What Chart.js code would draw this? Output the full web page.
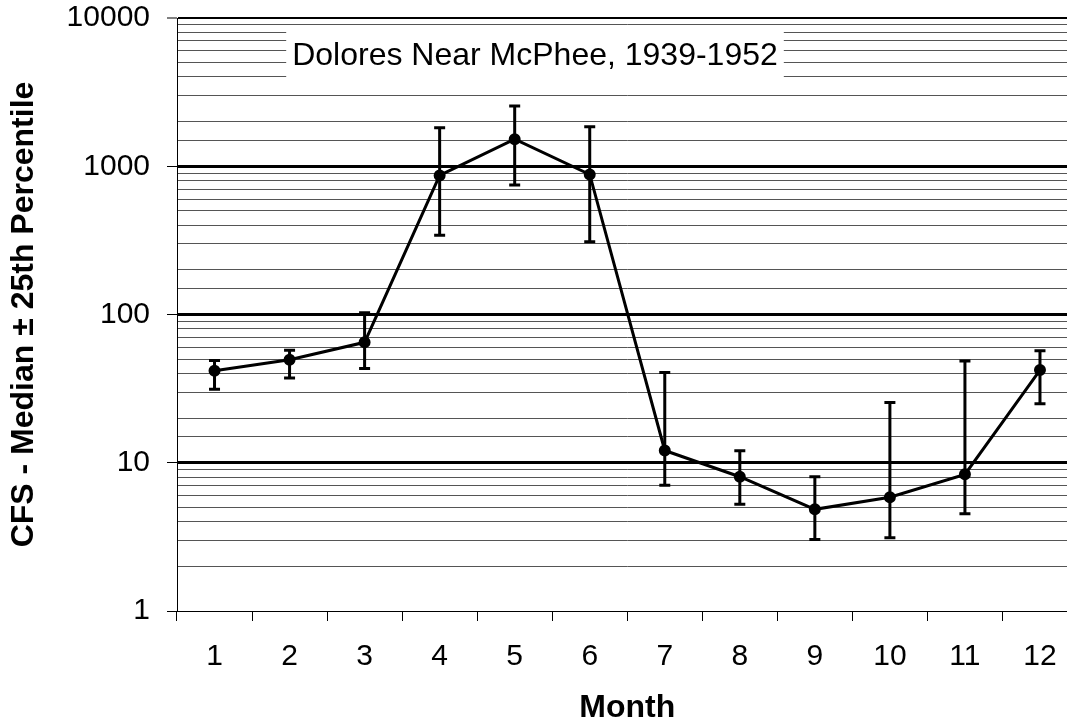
<!DOCTYPE html>
<html>
<head>
<meta charset="utf-8">
<script src="https://cdn.jsdelivr.net/npm/chart.js@4.4.1/dist/chart.umd.min.js"></script>
<style>
  html, body { margin: 0; padding: 0; background: #fff; overflow: hidden; }
  #wrap { position: relative; width: 1085px; height: 724px; }
</style>
</head>
<body>
<div id="wrap"><canvas id="chart"></canvas></div>
<script>
const months = ['1', '2', '3', '4', '5', '6', '7', '8', '9', '10', '11', '12'];
const medianCfs = [41.7, 49.5, 64.9, 867, 1523, 880, 12.1, 8.05, 4.85, 5.85, 8.35, 42.2];
const upperCfs = [49.0, 57.3, 102.6, 1815, 2553, 1844, 40.7, 12.05, 8.05, 25.5, 48.5, 56.9];
const lowerCfs = [31.3, 37.3, 43.3, 343, 746, 309, 7.04, 5.24, 3.04, 3.12, 4.53, 25.0];
const yTickLabels = [1, 10, 100, 1000, 10000];
const chartTitle = 'Dolores Near McPhee, 1939-1952';

const fontFamily = '"Liberation Sans", Arial, Helvetica, sans-serif';
Chart.defaults.font.family = fontFamily;
Chart.defaults.color = '#000';

// white box with the title, sitting on top of the gridlines
const titleBox = {
    id: 'titleBox',
    beforeDatasetsDraw(chart) {
        const { ctx, chartArea } = chart;
        const cx = chartArea.left + 358;
        const cy = chartArea.top + 38.5;
        ctx.save();
        ctx.font = '32px ' + fontFamily;
        const w = ctx.measureText(chartTitle).width;
        ctx.fillStyle = '#fff';
        ctx.fillRect(cx - w / 2 - 6, cy - 27, w + 12, 55);
        ctx.fillStyle = '#000';
        ctx.textAlign = 'center';
        ctx.textBaseline = 'middle';
        ctx.fillText(chartTitle, cx, cy);
        ctx.restore();
    }
};

// 25th / 75th percentile whiskers
const errorBars = {
    id: 'errorBars',
    afterDatasetsDraw(chart) {
        const meta = chart.getDatasetMeta(0);
        const y = chart.scales.y;
        const ctx = chart.ctx;
        ctx.save();
        ctx.strokeStyle = '#000';
        ctx.lineWidth = 3;
        meta.data.forEach((pt, i) => {
            const yTop = y.getPixelForValue(upperCfs[i]);
            const yBot = y.getPixelForValue(lowerCfs[i]);
            ctx.beginPath();
            ctx.moveTo(pt.x, yTop);
            ctx.lineTo(pt.x, yBot);
            ctx.moveTo(pt.x - 5.5, yTop);
            ctx.lineTo(pt.x + 5.5, yTop);
            ctx.moveTo(pt.x - 5.5, yBot);
            ctx.lineTo(pt.x + 5.5, yBot);
            ctx.stroke();
        });
        ctx.restore();
    }
};

const isDecade = v => yTickLabels.includes(v);

new Chart(document.getElementById('chart').getContext('2d'), {
    type: 'line',
    data: {
        labels: months,
        datasets: [{
            data: medianCfs,
            borderColor: '#000',
            borderWidth: 3,
            backgroundColor: '#000',
            pointBackgroundColor: '#000',
            pointBorderColor: '#000',
            pointRadius: 4.5,
            tension: 0,
        }],
    },
    options: {
        responsive: true,
        maintainAspectRatio: false,
        animation: false,
        layout: { padding: { top: 18, left: 0, right: 0, bottom: 0 } },
        plugins: {
            legend: { display: false },
            tooltip: { enabled: false },
        },
        scales: {
            x: {
                offset: true,
                afterFit(scale) {
                    scale.height = 113;
                    scale.paddingLeft = 0;
                    scale.paddingRight = 0;
                },
                border: { color: '#000', width: 1 },
                grid: { offset: true, drawOnChartArea: false, tickLength: 10, color: '#000', lineWidth: 1 },
                ticks: { padding: 18, color: '#000', font: { size: 30 }, maxRotation: 0, autoSkip: false },
                title: {
                    display: true, text: 'Month', color: '#000',
                    font: { size: 32, weight: 'bold' }, padding: { top: 0, bottom: -3 }
                },
            },
            y: {
                type: 'logarithmic',
                min: 1,
                max: 10000,
                afterFit(scale) {
                    scale.width = 177;
                    scale.paddingTop = 0;
                    scale.paddingBottom = 0;
                },
                border: { color: '#000', width: 1 },
                grid: {
                    color: c => isDecade(c.tick.value) ? '#000' : '#555',
                    lineWidth: c => {
                        const v = c.tick.value;
                        if (v === 10 || v === 100 || v === 1000) return 3;
                        if (v === 10000) return 2;
                        return 1;
                    },
                    tickLength: 10,
                    tickColor: c => isDecade(c.tick.value) ? '#000' : 'rgba(0,0,0,0)',
                    tickWidth: 1,
                },
                ticks: {
                    padding: 17,
                    color: '#000',
                    font: { size: 30 },
                    autoSkip: false,
                    callback: v => isDecade(v) ? String(v) : '',
                },
                title: {
                    display: true, text: 'CFS - Median ± 25th Percentile', color: '#000',
                    font: { size: 32, weight: 'bold' }, padding: { top: 5, bottom: 0 }
                },
            },
        },
    },
    plugins: [titleBox, errorBars],
});
</script>
</body>
</html>
